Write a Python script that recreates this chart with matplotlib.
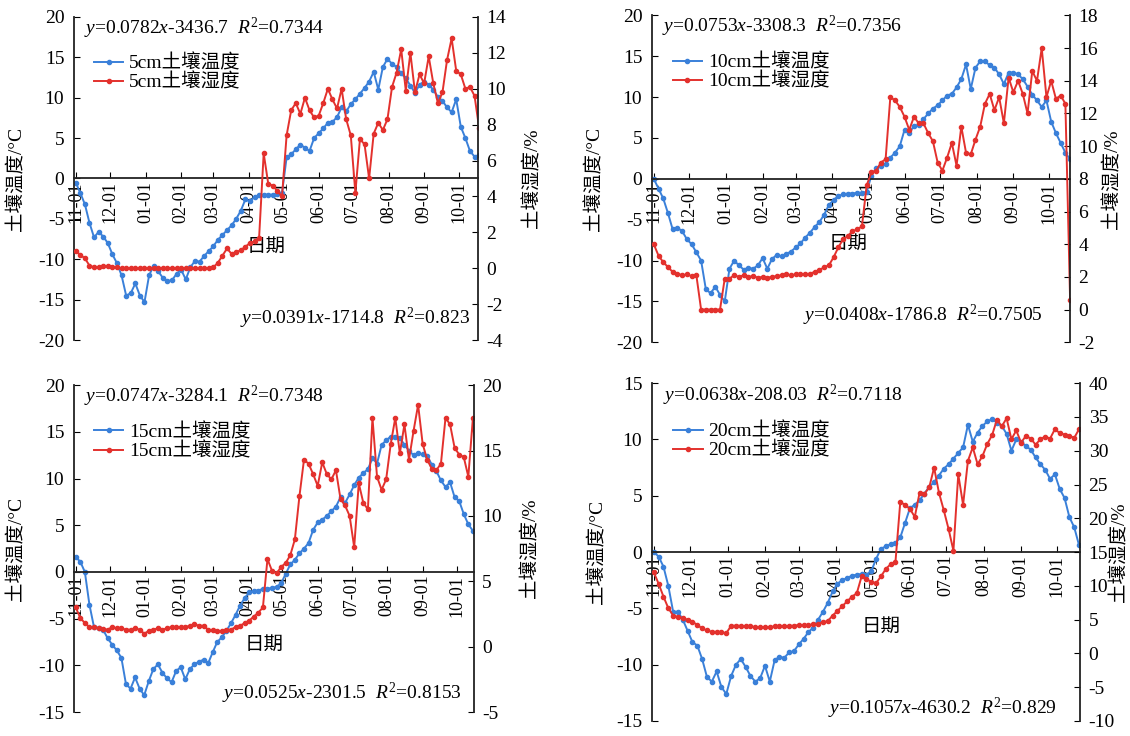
import numpy as np
import pandas as pd
import matplotlib
matplotlib.use('Agg')
import matplotlib.pyplot as plt
import matplotlib.dates as mdates

plt.rcParams['font.family'] = ['Liberation Serif', 'Noto Sans CJK SC']
plt.rcParams['mathtext.fontset'] = 'custom'
plt.rcParams['mathtext.rm'] = 'Liberation Serif'
plt.rcParams['mathtext.it'] = 'Liberation Serif:italic'
plt.rcParams['axes.unicode_minus'] = False

# fechas cada 4 dias desde 11-01
fechas = pd.date_range('2018-11-01', periods=89, freq='4D')
meses = pd.date_range('2018-11-01', '2019-10-01', freq='MS')

# 5 cm
temp_5 = [-0.5, -1.8, -3.2, -5.5, -7.3, -6.6, -7.2, -8.0, -9.4, -10.5,
          -12.0, -14.5, -14.2, -13.0, -14.5, -15.3, -12.0, -10.8, -11.5, -12.3,
          -12.7, -12.6, -11.8, -11.3, -12.5, -11.0, -10.2, -10.3, -9.6, -9.0,
          -8.4, -7.6, -7.0, -6.4, -5.8, -5.0, -4.0, -2.6, -2.8, -2.3,
          -2.1, -2.0, -2.0, -2.0, -1.9, -1.8, 2.6, 3.0, 3.6, 4.2,
          3.8, 3.4, 5.0, 5.6, 6.2, 6.9, 7.0, 7.6, 8.8, 8.3,
          9.2, 9.8, 10.5, 11.2, 12.0, 13.2, 11.0, 13.8, 14.8, 14.2,
          13.8, 13.0, 12.4, 11.5, 10.6, 11.6, 12.0, 11.6, 11.0, 10.1,
          9.6, 8.8, 8.2, 9.8, 6.4, 5.0, 3.4, 2.7, 2.9]
hum_5 = [0.95, 0.75, 0.55, 0.15, 0.05, 0.05, 0.1, 0.1, 0.05, 0.05,
         0.0, 0.0, 0.0, 0.0, 0.0, 0.0, 0.0, 0.0, 0.0, 0.0,
         0.0, 0.0, 0.0, 0.0, 0.0, 0.0, 0.0, 0.0, 0.0, 0.0,
         0.05, 0.3, 0.7, 1.1, 0.8, 0.9, 1.0, 1.2, 1.4, 1.5,
         1.7, 6.4, 4.7, 4.6, 4.3, 4.0, 7.4, 8.8, 9.2, 8.6,
         9.5, 8.8, 8.4, 8.5, 9.2, 10.0, 9.4, 8.9, 10.0, 8.3,
         7.4, 4.2, 7.2, 6.9, 5.0, 7.5, 8.1, 7.7, 8.3, 10.1,
         10.9, 12.2, 9.9, 12.0, 9.8, 10.8, 10.3, 11.8, 10.3, 9.2,
         9.8, 11.6, 12.8, 11.0, 10.8, 10.0, 10.1, 9.6, 7.8]

# 10 cm
temp_10 = [0.0, -1.2, -2.4, -4.2, -6.2, -6.0, -6.4, -7.4, -8.0, -9.0,
           -10.0, -13.5, -14.0, -13.2, -14.2, -15.0, -11.0, -10.0, -10.6, -11.1,
           -10.9, -11.0, -10.6, -9.7, -11.0, -9.8, -9.3, -9.5, -9.2, -8.9,
           -8.4, -7.9, -7.2, -6.6, -5.9, -5.3, -4.4, -3.2, -2.6, -2.1,
           -1.9, -1.8, -1.8, -1.7, -1.7, -1.6, 0.4, 1.3, 1.6, 1.8,
           2.6, 3.2, 4.0, 6.0, 5.6, 6.5, 6.6, 7.3, 8.0, 8.6,
           9.0, 9.6, 10.2, 10.4, 11.2, 12.2, 14.0, 11.0, 13.6, 14.4,
           14.4, 13.9, 13.6, 12.8, 11.6, 13.0, 13.0, 12.8, 12.2, 11.3,
           10.3, 9.6, 8.8, 9.6, 7.0, 5.6, 4.4, 3.2, 2.4]
hum_10 = [4.0, 3.3, 2.9, 2.6, 2.3, 2.2, 2.1, 2.15, 2.05, 2.1,
          0.0, 0.0, 0.0, 0.0, 0.0, 1.9, 1.9, 2.1, 2.0, 2.1,
          2.0, 2.05, 1.95, 2.0, 1.95, 2.0, 2.05, 2.1, 2.15, 2.1,
          2.15, 2.2, 2.15, 2.2, 2.3, 2.4, 2.6, 2.7, 3.2, 3.8,
          4.3, 4.5, 4.8, 4.9, 5.1, 7.6, 8.4, 8.5, 9.0, 9.2,
          13.0, 12.8, 12.4, 11.8, 11.0, 11.8, 11.4, 11.4, 10.8, 10.3,
          9.0, 8.5, 9.3, 10.2, 8.8, 11.2, 9.6, 9.5, 10.4, 11.2,
          12.6, 13.2, 12.2, 13.0, 11.4, 14.2, 13.3, 14.0, 13.2, 12.0,
          14.6, 14.0, 16.0, 13.0, 14.0, 12.9, 13.1, 12.6, 0.6]

# 15 cm
temp_15 = [1.6, 1.1, 0.0, -3.5, -5.9, -6.0, -6.2, -7.1, -7.8, -8.4,
           -9.2, -12.0, -12.5, -11.3, -12.5, -13.2, -11.7, -10.4, -9.9, -10.8,
           -11.4, -11.8, -10.6, -10.2, -11.5, -10.4, -9.9, -9.6, -9.4, -9.8,
           -8.6, -7.5, -7.0, -6.3, -5.5, -4.6, -3.6, -2.8, -2.2, -2.0,
           -2.0, -1.8, -1.8, -1.7, -1.6, -1.2, -0.2, 0.8, 1.3, 2.0,
           2.5, 3.1, 4.5, 5.3, 5.6, 6.0, 6.5, 7.0, 8.0, 7.4,
           8.3, 9.3, 10.1, 10.6, 11.0, 12.2, 11.6, 13.6, 14.1, 14.5,
           14.5, 14.4, 13.6, 13.0, 12.5, 12.7, 12.6, 12.4, 11.5, 10.8,
           9.8, 9.1, 9.6, 8.0, 7.6, 6.2, 5.1, 4.4, 4.0]
hum_15 = [3.0, 2.2, 1.8, 1.5, 1.5, 1.4, 1.35, 1.3, 1.5, 1.4,
          1.4, 1.3, 1.3, 1.4, 1.3, 1.0, 1.2, 1.3, 1.4, 1.3,
          1.4, 1.5, 1.5, 1.5, 1.5, 1.6, 1.7, 1.6, 1.6, 1.3,
          1.25, 1.2, 1.2, 1.3, 1.3, 1.5, 1.6, 1.8, 2.0, 2.3,
          2.6, 3.0, 6.7, 5.8, 5.6, 6.1, 6.4, 7.0, 8.2, 11.5,
          14.3, 14.0, 13.2, 12.3, 14.1, 13.2, 12.8, 13.5, 11.3, 10.8,
          10.0, 7.6, 12.5, 11.0, 10.5, 17.5, 13.0, 12.0, 12.8, 15.5,
          17.5, 14.8, 17.0, 14.3, 16.5, 18.5, 15.5, 14.3, 13.6, 13.5,
          14.0, 17.5, 17.0, 15.2, 14.7, 14.5, 13.0, 17.5, 12.5]

# 20 cm
temp_20 = [0.0, -0.4, -1.3, -3.0, -5.3, -5.3, -6.0, -7.0, -8.0, -8.3,
           -9.5, -11.1, -11.5, -10.6, -12.0, -12.6, -11.0, -10.0, -9.5, -10.2,
           -11.0, -11.5, -11.2, -10.1, -11.5, -9.6, -9.3, -9.4, -8.9, -8.8,
           -8.2, -7.7, -7.1, -6.7, -6.0, -5.3, -4.5, -3.5, -2.8, -2.5,
           -2.3, -2.1, -2.0, -1.95, -2.0, -1.7, -0.6, 0.3, 0.5, 0.7,
           0.8, 1.3, 2.6, 3.9, 4.2, 4.6, 5.2, 5.8, 6.2, 6.8,
           7.4, 7.8, 8.3, 8.8, 9.3, 11.3, 9.8, 10.6, 11.2, 11.6,
           11.8, 11.5, 11.2, 10.5, 9.0, 10.0, 9.8, 9.4, 9.1, 8.4,
           7.8, 7.3, 6.5, 6.9, 5.6, 4.8, 3.1, 2.2, 0.6]
hum_20 = [12.0, 10.3, 8.4, 6.7, 5.6, 5.4, 5.2, 5.0, 4.7, 4.2,
          3.7, 3.4, 3.2, 3.2, 3.1, 3.0, 4.1, 4.1, 4.1, 4.0,
          4.0, 3.9, 3.9, 3.9, 3.9, 4.0, 4.0, 4.0, 4.1, 4.1,
          4.2, 4.2, 4.2, 4.3, 4.4, 4.6, 4.8, 5.6, 6.3, 7.0,
          7.7, 8.4, 8.9, 11.4, 11.0, 10.6, 10.4, 11.4, 12.5, 13.2,
          13.5, 22.4, 22.0, 21.4, 20.2, 23.8, 23.6, 24.6, 27.5, 23.8,
          21.2, 18.4, 15.2, 26.5, 22.0, 28.5, 30.5, 28.0, 29.2, 31.0,
          32.3, 34.6, 33.6, 34.8, 31.7, 33.0, 31.2, 32.2, 31.8, 30.9,
          31.7, 32.1, 31.8, 33.2, 32.6, 32.4, 32.2, 31.9, 33.2]

ecuaciones_t = ['$y$=0.0782$x$-3436.7  $R^2$=0.7344', '$y$=0.0753$x$-3308.3  $R^2$=0.7356',
                '$y$=0.0747$x$-3284.1  $R^2$=0.7348', '$y$=0.0638$x$-208.03  $R^2$=0.7118']
ecuaciones_h = ['$y$=0.0391$x$-1714.8  $R^2$=0.823', '$y$=0.0408$x$-1786.8  $R^2$=0.7505',
                '$y$=0.0525$x$-2301.5  $R^2$=0.8153', '$y$=0.1057$x$-4630.2  $R^2$=0.829']
profundidades = ['5cm', '10cm', '15cm', '20cm']

azul = '#3a80d9'
rojo = '#e3312d'

fig = plt.figure(figsize=(11.3, 7.36), dpi=100)

# [pos, ylim temp, ylim hum, paso hum, xlim dias, eq abajo x, eq abajo y, ylab x, ylab2 x, fecha y, fecha x]
paneles = [
    ([0.0655, 0.538, 0.3575, 0.439], (-20, 20), (-4, 14), 2, 351, 0.41, 0.068, -0.121, 1.111, 0.288, 0.475),
    ([0.577, 0.535, 0.370, 0.444], (-20, 20), (-2, 18), 2, 352, 0.36, 0.083, -0.115, 1.078, 0.30, 0.47),
    ([0.0655, 0.0326, 0.354, 0.444], (-15, 20), (-5, 20), 5, 349, 0.37, 0.058, -0.1225, 1.118, 0.205, 0.475),
    ([0.577, 0.0204, 0.379, 0.459], (-15, 15), (-10, 40), 5, 353, 0.41, 0.038, -0.107, 1.07, 0.278, 0.535),
]
temps = [temp_5, temp_10, temp_15, temp_20]
hums = [hum_5, hum_10, hum_15, hum_20]

inicio = pd.Timestamp('2018-11-01')
for i in range(4):
    pos, ylt, ylh, paso, fin, ex, ey, lx, lx2, fy, fx = paneles[i]
    ax = fig.add_axes(pos)
    ax2 = ax.twinx()

    l1, = ax.plot(fechas, temps[i], color=azul, marker='o', ms=3, lw=1.4)
    l2, = ax2.plot(fechas, hums[i], color=rojo, marker='o', ms=3, lw=1.4)

    ax.set_xlim(inicio - pd.Timedelta(days=1.5), inicio + pd.Timedelta(days=fin))
    ax.set_ylim(ylt)
    ax.set_yticks(np.arange(ylt[0], ylt[1] + 1, 5))
    ax2.set_ylim(ylh)
    ax2.set_yticks(np.arange(ylh[0], ylh[1] + 1, paso))

    ax.set_xticks(meses)
    ax.xaxis.set_major_formatter(mdates.DateFormatter('%m-%d'))
    ax.spines['bottom'].set_position(('data', 0))
    for s in ['top', 'right']:
        ax.spines[s].set_visible(False)
    for s in ['top', 'bottom', 'left']:
        ax2.spines[s].set_visible(False)
    for s in [ax.spines['left'], ax.spines['bottom'], ax2.spines['right']]:
        s.set_linewidth(1.3)
        s.set_color('#222222')

    ax.tick_params(axis='x', direction='in', length=4, labelrotation=90, labelsize=13, pad=2)
    ax.tick_params(axis='y', direction='in', length=4, labelsize=14, pad=7)
    ax2.tick_params(axis='y', direction='in', length=4, labelsize=14, pad=6)

    ax.set_ylabel('土壤温度/°C', fontsize=14)
    ax.yaxis.set_label_coords(lx, 0.5)
    ax2.set_ylabel('土壤湿度/%', fontsize=14, rotation=90)
    ax2.yaxis.set_label_coords(lx2, 0.5)

    ax.text(fx, fy, '日期', transform=ax.transAxes, fontsize=14, ha='center', va='center')
    ax2.text(0.025, 0.965, ecuaciones_t[i], transform=ax.transAxes, fontsize=14, va='center')
    ax2.text(ex, ey, ecuaciones_h[i], transform=ax.transAxes, fontsize=14, va='center')

    ax2.legend([l1, l2], [profundidades[i] + '土壤温度', profundidades[i] + '土壤湿度'],
               loc='upper left', bbox_to_anchor=(0.05, 0.885), frameon=False, fontsize=14,
               handlelength=1.5, handletextpad=0.3, labelspacing=0.05,
               borderpad=0, borderaxespad=0)

plt.savefig('out.png', dpi=100)
